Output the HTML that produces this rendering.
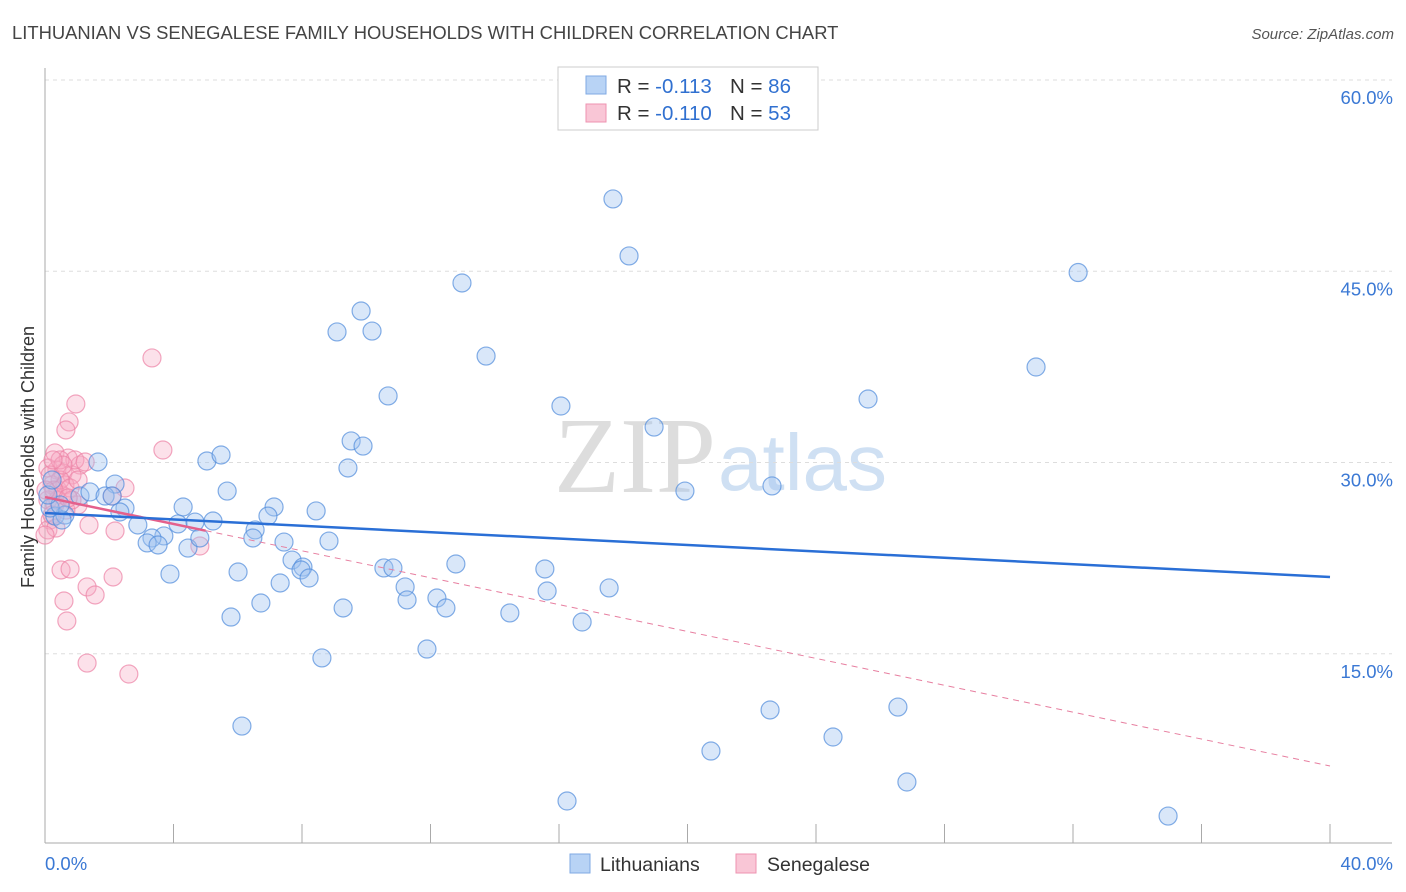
<!DOCTYPE html>
<html><head><meta charset="utf-8"><style>
body{margin:0;background:#fff;font-family:"Liberation Sans",sans-serif;}
svg{display:block}
</style></head><body>
<svg id="chart" width="1406" height="892">
<text x="12" y="39" font-size="18.4" fill="#444">LITHUANIAN VS SENEGALESE FAMILY HOUSEHOLDS WITH CHILDREN CORRELATION CHART</text>
<text x="1394" y="39" font-size="15" fill="#555" text-anchor="end" font-style="italic">Source: ZipAtlas.com</text>
<text x="716" y="492" font-size="108" fill="#ddd" text-anchor="end" font-family="Liberation Serif,serif">ZIP</text>
<text x="718" y="490" font-size="80" fill="#cfe0f3">atlas</text>
<g id="grid"></g>
<g id="axes"></g>
<g id="marks"></g>
<text transform="translate(34,457) rotate(-90)" font-size="18" fill="#333" text-anchor="middle">Family Households with Children</text>
<g>
<rect x="558" y="67" width="260" height="63" fill="#fff" stroke="#ccc"/>
<rect x="586" y="76" width="20" height="18" fill="#b8d3f5" stroke="#7fa9e3"/>
<rect x="586" y="104" width="20" height="18" fill="#f9c6d6" stroke="#ee93b0"/>
<text x="617" y="93" font-size="20.5" fill="#333">R = <tspan fill="#3070d0">-0.113</tspan></text>
<text x="730" y="93" font-size="20.5" fill="#333">N = <tspan fill="#3070d0">86</tspan></text>
<text x="617" y="120" font-size="20.5" fill="#333">R = <tspan fill="#3070d0">-0.110</tspan></text>
<text x="730" y="120" font-size="20.5" fill="#333">N = <tspan fill="#3070d0">53</tspan></text>
</g>
<g>
<rect x="570" y="854" width="20" height="19" fill="#b8d3f5" stroke="#7fa9e3"/>
<text x="600" y="871" font-size="19.5" fill="#333">Lithuanians</text>
<rect x="736" y="854" width="20" height="19" fill="#f9c6d6" stroke="#ee93b0"/>
<text x="767" y="871" font-size="19.5" fill="#333">Senegalese</text>
</g>
</svg>
<script>
const blueX=[17.68,18.18,32.16,12.98,9.84,9.09,10.18,13.73,30.85,10.68,16.06,25.62,18.96,9.53,9.9,1.65,5.04,5.48,9.43,19.92,22.63,5.67,2.18,1.09,1.4,1.87,2.09,4.3,7.13,6.94,5.23,8.44,2.49,2.33,0.31,0.62,0.53,2.89,4.14,4.67,6.54,6.47,3.7,3.33,3.18,3.52,4.45,4.82,7.44,8.84,7.69,8.03,7.97,8.22,6.01,3.89,7.32,10.55,10.83,12.79,15.56,11.21,11.27,12.2,12.48,15.63,17.56,14.47,9.28,6.72,5.79,16.72,11.89,8.62,6.13,22.57,26.55,24.53,20.73,26.83,16.25,34.96,0.16,0.47,0.09,0.22];
const blueY=[50.67,46.2,44.9,44.08,41.88,40.24,40.31,38.35,37.49,35.22,34.43,34.98,32.78,31.69,31.29,30.04,30.12,30.59,29.57,27.76,28.16,27.76,28.31,27.37,27.69,27.37,27.37,26.51,26.51,25.8,25.41,26.2,26.43,26.12,25.8,25.88,25.49,25.1,25.18,25.33,24.71,24.08,24.24,24.08,23.69,23.53,23.29,24.08,23.76,23.84,22.35,21.8,21.57,20.94,21.41,21.25,20.55,21.73,21.73,22.04,21.65,20.24,19.22,19.37,18.59,19.92,20.16,18.2,18.59,18.98,17.88,17.49,15.37,14.67,9.33,10.59,10.82,8.47,7.37,4.94,3.45,2.27,26.43,26.67,27.45,28.63];
const pinkX=[3.33,0.96,0.75,0.65,3.67,0.31,0.72,1.09,0.37,0.56,0.84,0.09,0.22,0.4,0.53,0.62,0.09,0.31,0.47,0.78,2.49,2.09,1.03,0.16,0.09,1.37,2.18,4.82,0.5,0.78,1.31,1.56,2.12,0.59,0.68,1.31,2.61,0.22,0.34,0.0,0.93,1.25,0.47,0.16,0.4,0.65,0.28,0.56,0.84,0.03,0.25,1.03,0.72];
const pinkY=[38.2,34.59,33.18,32.55,30.98,30.75,30.35,29.8,29.41,29.18,29.02,29.57,28.24,27.84,27.45,28.24,27.06,26.67,28.63,28.0,28.0,27.37,26.67,25.49,24.71,25.1,24.63,23.45,21.57,21.65,20.24,19.61,21.02,19.14,17.57,14.27,13.41,25.88,24.86,24.31,30.2,30.04,30.2,29.02,27.06,26.27,27.84,29.8,27.06,27.84,30.2,28.63,27.22];
const blueTrend=[26.04,21.02];
const pinkTrend=[27.29,6.2];
const pinkSolidEnd=5;
const yTicks=[15,30,45,60];
const yTickLabels=["15.0%","30.0%","45.0%","60.0%"];
const xTicks=[0,4,8,12,16,20,24,28,32,36,40];
const xTickLabels=["0.0%","40.0%"];

const NS="http://www.w3.org/2000/svg";
const X=v=>45+v*32.125, Y=v=>845-v*12.75;
function mk(tag,attrs,parent){const e=document.createElementNS(NS,tag);for(const k in attrs)e.setAttribute(k,attrs[k]);document.getElementById(parent).appendChild(e);return e;}
yTicks.forEach((t,i)=>{
  const g=mk('line',{x1:45,x2:1392,y1:Y(t),y2:Y(t),stroke:'#ddd','stroke-dasharray':'4,4'},'grid');
  
  
  const l=mk('text',{x:1393,y:Y(t)+24,'font-size':18.5,fill:'#3a78d4','text-anchor':'end'},'grid');
  l.textContent=yTickLabels[i];
  
  
});
const ax=mk('line',{x1:45,x2:45,y1:68,y2:843,stroke:'#aaa'},'axes');


const bx=mk('line',{x1:45,x2:1392,y1:843,y2:843,stroke:'#aaa'},'axes');


xTicks.forEach(t=>{
  const e=mk('line',{x1:X(t),x2:X(t),y1:824,y2:843,stroke:'#aaa'},'axes');
  
  
});
const xl0=mk('text',{x:45,y:870,'font-size':18.5,fill:'#3a78d4'},'axes');xl0.textContent=xTickLabels[0];


const xl1=mk('text',{x:1393,y:870,'font-size':18.5,fill:'#3a78d4','text-anchor':'end'},'axes');xl1.textContent=xTickLabels[1];


pinkX.forEach((x,i)=>{
  const c=mk('circle',{cx:X(x),cy:Y(pinkY[i]),r:9,fill:'rgba(246,170,195,0.35)',stroke:'rgba(236,130,165,0.7)','stroke-width':1.2},'marks');
  
  
});
blueX.forEach((x,i)=>{
  const c=mk('circle',{cx:X(x),cy:Y(blueY[i]),r:9,fill:'rgba(160,195,240,0.4)',stroke:'rgba(80,140,220,0.7)','stroke-width':1.2},'marks');
  
  
});
const pAt=x=>pinkTrend[0]+(pinkTrend[1]-pinkTrend[0])*x/40;
const pd=mk('line',{x1:X(pinkSolidEnd),y1:Y(pAt(pinkSolidEnd)),x2:X(40),y2:Y(pinkTrend[1]),stroke:'#e77fa0','stroke-width':1,'stroke-dasharray':'6,5'},'marks');


const ps=mk('line',{x1:X(0),y1:Y(pinkTrend[0]),x2:X(pinkSolidEnd),y2:Y(pAt(pinkSolidEnd)),stroke:'#e4608c','stroke-width':2.5},'marks');


const bl=mk('line',{x1:X(0),y1:Y(blueTrend[0]),x2:X(40),y2:Y(blueTrend[1]),stroke:'#2a6fd6','stroke-width':2.5},'marks');


</script>
</body></html>
